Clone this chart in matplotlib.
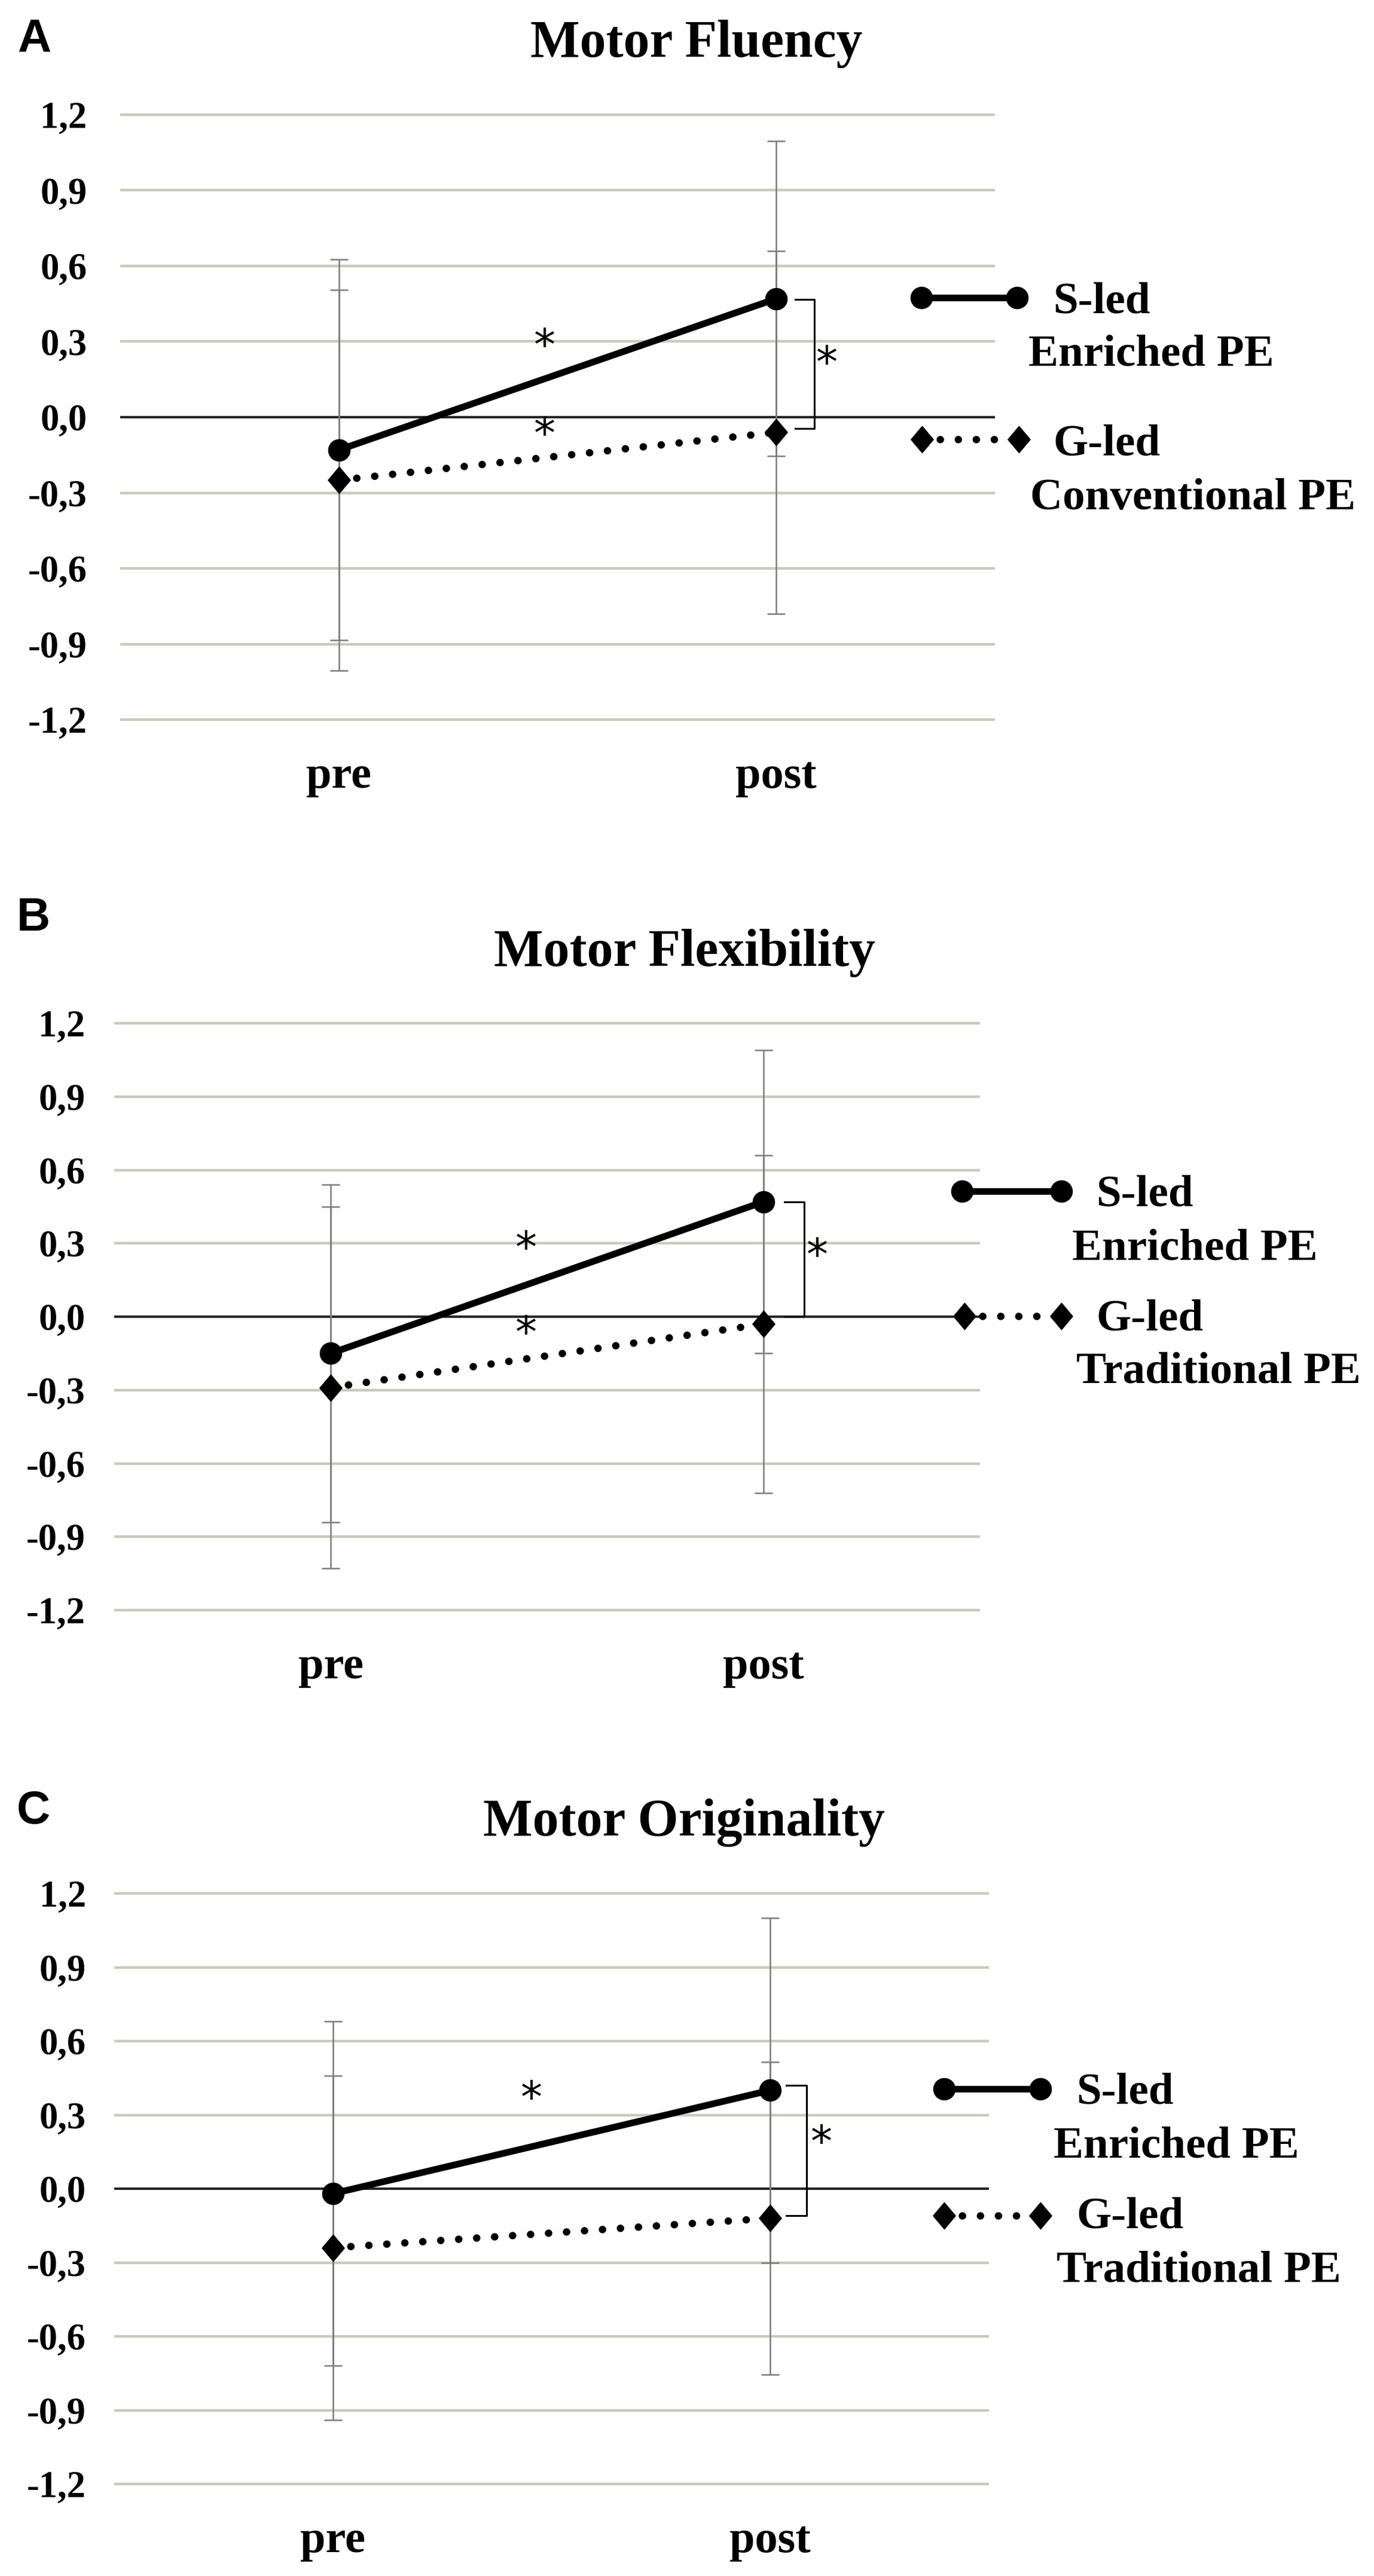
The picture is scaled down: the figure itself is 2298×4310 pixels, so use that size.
import matplotlib
matplotlib.use("Agg")
import matplotlib.pyplot as plt
import matplotlib.lines as mlines
from matplotlib.path import Path

# ---------------- data ----------------
times = ["pre", "post"]
ytick_values = [-1.2, -0.9, -0.6, -0.3, 0.0, 0.3, 0.6, 0.9, 1.2]
ytick_labels = ["-1,2", "-0,9", "-0,6", "-0,3", "0,0", "0,3", "0,6", "0,9", "1,2"]

panel_letters = ["A", "B", "C"]
panel_titles = ["Motor Fluency", "Motor Flexibility", "Motor Originality"]
group_s_labels = [("S-led", "Enriched PE")] * 3
group_g_labels = [("G-led", "Conventional PE"), ("G-led", "Traditional PE"), ("G-led", "Traditional PE")]

# means (pre, post)
s_means = [[-0.13, 0.47], [-0.15, 0.47], [-0.02, 0.40]]
g_means = [[-0.25, -0.06], [-0.29, -0.03], [-0.24, -0.12]]
# symmetric error (pre, post)
s_err = [[0.755, 0.625], [0.69, 0.62], [0.70, 0.70]]
g_err = [[0.755, 0.72], [0.74, 0.69], [0.70, 0.635]]

# significance stars: (x, y) in data units
stars = [
    [(0.471, 0.325), (0.471, -0.026), (1.116, 0.256)],
    [(0.452, 0.322), (0.452, -0.026), (1.124, 0.292)],
    [(0.454, 0.409), (1.117, 0.23)],
]
# brackets between groups at post: (x_left, x_right, y_top, y_bottom)
brackets = [
    (1.043, 1.087, 0.467, -0.045),
    (1.048, 1.094, 0.47, 0.0),
    (1.036, 1.083, 0.42, -0.11),
]

# ---------------- layout (pixels, top-left origin) ----------------
W, H = 2298, 4310
# axes: left, right, y of +1.2, y of -1.2
axes_px = [(201, 1664, 192, 1204), (191, 1639, 1712, 2694), (191, 1654, 3168, 4156)]
ytick_pad = [40, 35, 34]
letter_pos = [(29, 86), (28, 1557), (28, 3051)]
title_pos = [(1165, 95), (1145, 1616), (1144, 3071)]
# legend: (marker x0, x1, y) for S and G, text positions
leg_s = [(1541, 1701, 498), (1609, 1775, 1993), (1579, 1740, 3495)]
leg_g = [(1542, 1704, 735), (1613, 1775, 2202), (1579, 1740, 3707)]
leg_s_text = [((1761, 523), (1720, 612)), ((1833, 2017), (1793, 2107)), ((1800, 3520), (1762, 3610))]
leg_g_text = [((1761, 761), (1723, 852)), ((1833, 2226), (1800, 2314)), ((1800, 3727), (1767, 3817))]

SERIF = ["Liberation Serif", "DejaVu Serif"]
SANS = ["Liberation Sans", "DejaVu Sans"]
GRID_C = "#c9cabb"
ERR_C = "#7c7c7c"

diamond = Path([(0, 1), (0.84, 0), (0, -1), (-0.84, 0), (0, 1)],
               [Path.MOVETO, Path.LINETO, Path.LINETO, Path.LINETO, Path.CLOSEPOLY])

S_STYLE = dict(color="black", lw=8, linestyle="-", marker="o", ms=26, solid_capstyle="butt")
G_STYLE = dict(color="black", lw=9, linestyle=(0, (0.01, 2.4)), dash_capstyle="round",
               marker=diamond, ms=32)


def fx(x):
    return x / W


def fy(y):
    return 1 - y / H


fig = plt.figure(figsize=(W / 100, H / 100), dpi=100)
fig.patch.set_facecolor("white")

x = [0, 1]
for i in range(3):
    left, right, ytop, ybot = axes_px[i]
    ppu = (ybot - ytop) / 2.4
    top = ytop - 0.05 * ppu
    bottom = ybot + 0.05 * ppu
    ax = fig.add_axes([fx(left), fy(bottom), (right - left) / W, (bottom - top) / H])
    ax.set_xlim(-0.5, 1.5)
    ax.set_ylim(-1.25, 1.25)
    for sp in ax.spines.values():
        sp.set_visible(False)
    ax.set_facecolor("white")
    ax.set_yticks(ytick_values)
    ax.set_yticklabels(ytick_labels, fontfamily=SERIF, fontweight="bold", fontsize=45)
    ax.set_xticks(x)
    ax.set_xticklabels(times, fontfamily=SERIF, fontweight="bold", fontsize=55)
    ax.tick_params(axis="y", length=0, pad=ytick_pad[i])
    ax.tick_params(axis="x", length=0, pad=29)
    ax.yaxis.grid(True, color=GRID_C, lw=3.2)
    ax.set_axisbelow(True)
    ax.axhline(0, color="#222222", lw=2.8, zorder=1.5)

    ax.errorbar(x, s_means[i], yerr=s_err[i], fmt="none", ecolor=ERR_C,
                elinewidth=1.8, capsize=10.5, capthick=1.8, zorder=2)
    ax.errorbar(x, g_means[i], yerr=g_err[i], fmt="none", ecolor=ERR_C,
                elinewidth=1.8, capsize=10.5, capthick=1.8, zorder=2)

    ax.plot(x, g_means[i], zorder=4, **G_STYLE)
    ax.plot(x, s_means[i], zorder=5, **S_STYLE)

    # bracket
    bx0, bx1, byt, byb = brackets[i]
    ax.plot([bx0, bx1, bx1, bx0], [byt, byt, byb, byb], color="black", lw=2.2,
            clip_on=False, zorder=3)

    # stars
    for (sx, sy) in stars[i]:
        ax.annotate("*", xy=(sx, sy), xytext=(0, -0.55 * 52), textcoords="offset points",
                    ha="center", va="baseline", fontsize=52, fontfamily=["DejaVu Sans"],
                    annotation_clip=False)

    # panel letter and title
    lx, ly = letter_pos[i]
    fig.text(fx(lx), fy(ly), panel_letters[i], ha="left", va="baseline",
             fontsize=56, fontweight="bold", fontfamily=SANS)
    tx, ty = title_pos[i]
    fig.text(fx(tx), fy(ty), panel_titles[i], ha="center", va="baseline",
             fontsize=63, fontweight="bold", fontfamily=SERIF)

    # legend
    x0, x1, yy = leg_s[i]
    fig.add_artist(mlines.Line2D([fx(x0), fx(x1)], [fy(yy), fy(yy)],
                                 transform=fig.transFigure, **S_STYLE))
    x0, x1, yy = leg_g[i]
    fig.add_artist(mlines.Line2D([fx(x0), fx(x1)], [fy(yy), fy(yy)],
                                 transform=fig.transFigure, **G_STYLE))
    for (pos, txt) in zip(leg_s_text[i], group_s_labels[i]):
        fig.text(fx(pos[0]), fy(pos[1]), txt, ha="left", va="baseline",
                 fontsize=54, fontweight="bold", fontfamily=SERIF)
    for (pos, txt) in zip(leg_g_text[i], group_g_labels[i]):
        fig.text(fx(pos[0]), fy(pos[1]), txt, ha="left", va="baseline",
                 fontsize=54, fontweight="bold", fontfamily=SERIF)

fig.savefig("out.png", dpi=100, facecolor="white")
